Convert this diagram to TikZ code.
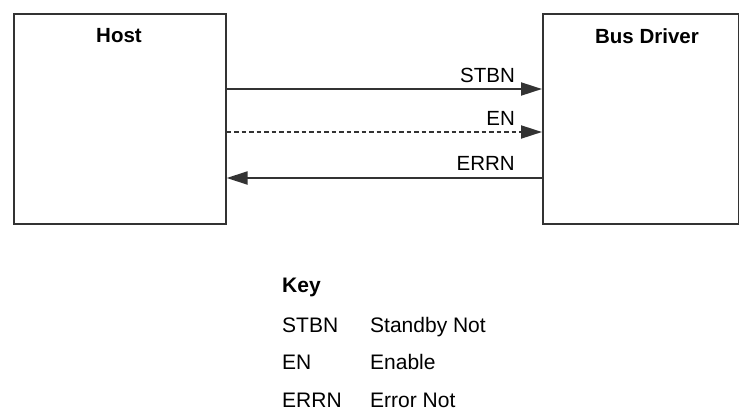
\documentclass[tikz,border=0pt]{standalone}
\usepackage{fontspec}
\setmainfont{Liberation Sans}
\usetikzlibrary{arrows.meta}
\definecolor{linec}{HTML}{333333}
\begin{document}
\begin{tikzpicture}[x=1pt,y=-1pt,
  box/.style={draw=linec,line width=1.6pt,minimum width=#1,minimum height=210pt,inner sep=0pt,anchor=north west},
  title/.style={font=\fontsize{20.5}{24}\selectfont\bfseries,inner sep=0pt},
  sig/.style={font=\fontsize{20.5}{24}\selectfont,inner sep=0pt,anchor=base east},
  keyt/.style={font=\fontsize{21}{24}\selectfont,inner sep=0pt,anchor=base west},
  conn/.style={draw=linec,line width=2pt,-{Triangle[length=21pt,width=13pt]}}
]
\useasboundingbox (0,0) rectangle (739,416);
\node[box=212pt] (host) at (13,13) {};
\node[box=196pt] (bus) at (542,13) {};
\node[title] (hostt) at (119,36) {Host};
\node[title] (bust) at (647,36) {Bus Driver};
\draw[conn] (host.east |- 0,89) -- (bus.west |- 0,89);
\draw[conn,dash pattern=on 4.5pt off 3pt] (host.east |- 0,132) -- (bus.west |- 0,132);
\draw[conn] (bus.west |- 0,178) -- (host.east |- 0,178);
\node[sig] (l1) at (515,82) {STBN};
\node[sig] (l2) at (515,125) {EN};
\node[sig] (l3) at (515,170) {ERRN};
\node[keyt,font=\fontsize{21}{24}\selectfont\bfseries] (key) at (282,292) {Key};
\node[keyt] (k1) at (282,332) {STBN};
\node[keyt] (d1) at (370,332) {Standby Not};
\node[keyt] (k2) at (282,369.5) {EN};
\node[keyt] (d2) at (370,369.5) {Enable};
\node[keyt] (k3) at (282,407) {ERRN};
\node[keyt] (d3) at (370,407) {Error Not};
\end{tikzpicture}
\end{document}
